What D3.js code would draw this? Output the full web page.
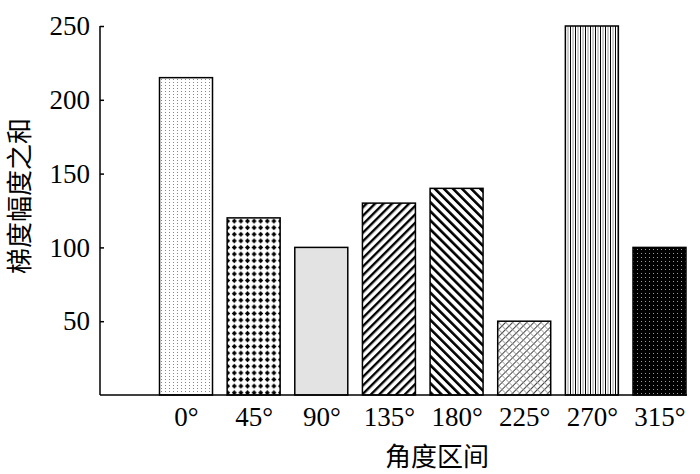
<!DOCTYPE html>
<html><head><meta charset="utf-8">
<script src="https://cdn.jsdelivr.net/npm/d3@7"></script>
<style>body{margin:0;background:#fff}</style>
</head><body>
<svg id="c" width="700" height="474"></svg>
<script>
const categories = ["0°","45°","90°","135°","180°","225°","270°","315°"];
const values = [215, 120, 100, 130, 140, 50, 250, 100];
const yTicks = [50, 100, 150, 200, 250];
const patterns = ["stipple","dots","gray","fwd","back","cross","vert","darkdots"];
const yLabel = "梯度幅度之和";
const xLabel = "角度区间";

const svg = d3.select("#c");
const defs = svg.append("defs");
function pat(id, w, h){ return defs.append("pattern").attr("id",id).attr("patternUnits","userSpaceOnUse").attr("width",w).attr("height",h); }
// stipple
let p = pat("stipple",4,3); p.append("rect").attr("width",4).attr("height",3).attr("fill","#fff");
p.append("rect").attr("x",1).attr("y",1).attr("width",1).attr("height",1).attr("fill","#888");
// dots
p = pat("dots",6.6,6.6); p.append("rect").attr("width",6.6).attr("height",6.6).attr("fill","#fff");
p.append("path").attr("d","M3.3,0.8 L5.8,3.3 L3.3,5.8 L0.8,3.3Z").attr("fill","#000");
// gray
p = pat("gray",4,4); p.append("rect").attr("width",4).attr("height",4).attr("fill","#e3e3e3");
// forward
p = pat("fwd",6,6).attr("patternTransform","rotate(45)"); p.append("rect").attr("width",6).attr("height",6).attr("fill","#fff");
p.append("rect").attr("x",0).attr("y",0).attr("width",2.4).attr("height",6).attr("fill","#000");
// back
p = pat("back",6.4,6.4).attr("patternTransform","rotate(-45)"); p.append("rect").attr("width",6.4).attr("height",6.4).attr("fill","#fff");
p.append("rect").attr("x",0).attr("y",0).attr("width",2.6).attr("height",6.4).attr("fill","#000");
// cross
p = pat("cross",5,5).attr("patternTransform","rotate(45)"); p.append("rect").attr("width",5).attr("height",5).attr("fill","#fff");
p.append("rect").attr("x",0).attr("y",0).attr("width",1).attr("height",5).attr("fill","#444");
p.append("rect").attr("x",0).attr("y",0).attr("width",5).attr("height",0.8).attr("fill","#999");
// vertical
p = pat("vert",5,4); p.append("rect").attr("width",5).attr("height",4).attr("fill","#fff");
p.append("rect").attr("x",0).attr("y",0).attr("width",1).attr("height",4).attr("fill","#000");
p.append("rect").attr("x",2.5).attr("y",0).attr("width",1).attr("height",4).attr("fill","#999");
// dark dots
p = pat("darkdots",4,4); p.append("rect").attr("width",4).attr("height",4).attr("fill","#000");
p.append("rect").attr("x",1).attr("y",1).attr("width",1).attr("height",1).attr("fill","#999");

const x = d3.scaleLinear().domain([0, categories.length-1]).range([186, 659.5]);
const xAxisRange = [x.invert(100), x.invert(687)];
const y = d3.scaleLinear().domain([0, 250]).range([395, 26]);
const bw = 53;

svg.append("g").selectAll("rect").data(values).join("rect")
  .attr("x",(d,i)=>x(i)-bw/2).attr("width",bw)
  .attr("y",d=>y(d)).attr("height",d=>y(0)-y(d))
  .attr("fill",(d,i)=>`url(#${patterns[i]})`)
  .attr("stroke","#000").attr("stroke-width",1.5);

const font = "'Liberation Serif','Times New Roman',serif";
// y axis
const ya = svg.append("g").attr("transform",`translate(${x(xAxisRange[0])},0)`)
  .call(d3.axisLeft(y).tickValues(yTicks).tickSize(-4).tickPadding(10).tickFormat(d3.format("d")));
ya.select(".domain").attr("d",`M0,${y(250)}V${y(0)}`).attr("stroke-width",1.5);
ya.selectAll(".tick line").attr("stroke-width",1.5);
ya.selectAll("text").attr("font-family",font).attr("font-size",27).attr("fill","#000");
// x axis
const xa = svg.append("g").attr("transform",`translate(0,${y(0)})`)
  .call(d3.axisBottom(x).tickValues(d3.range(categories.length)).tickSize(0).tickPadding(12).tickFormat(i=>categories[i]));
xa.select(".domain").attr("d",`M${x(xAxisRange[0])},0H${x(xAxisRange[1])}`).attr("stroke-width",1.5);
xa.selectAll("text").attr("font-family",font).attr("font-size",27).attr("fill","#000");

svg.append("text").attr("x",437).attr("y",466).attr("text-anchor","middle")
  .attr("font-family","'Noto Sans CJK SC',sans-serif").attr("font-size",26).text(xLabel);
svg.append("text").attr("transform","translate(29,196) rotate(-90)").attr("text-anchor","middle")
  .attr("font-family","'Noto Sans CJK SC',sans-serif").attr("font-size",26).text(yLabel);
</script>
</body></html>
